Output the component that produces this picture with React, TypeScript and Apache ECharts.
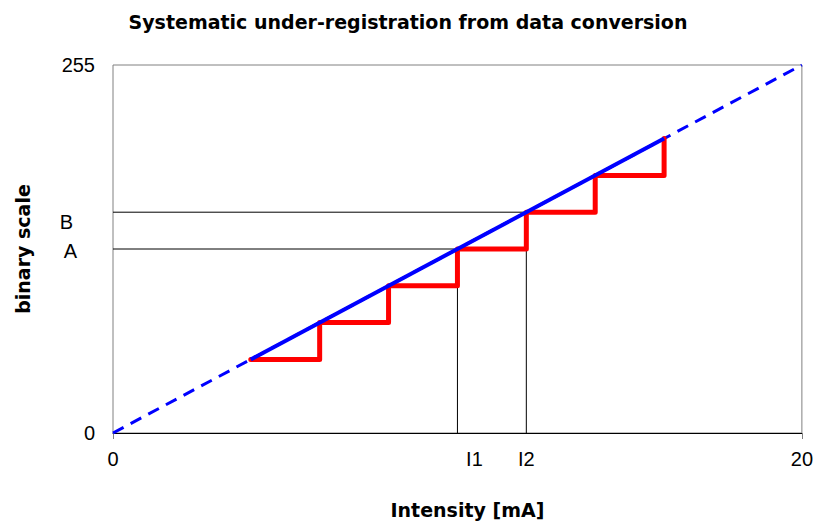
import React, { useEffect, useRef } from "react";
import * as echarts from "echarts";

const titleText = "Systematic under-registration from data conversion";
const xName = "Intensity [mA]";
const yName = "binary scale";

// ideal conversion line (full range)
const idealX = [0, 20];
const idealY = [0, 255];
// solid portion of ideal line
const solidX = [4, 16];
const solidY = [51, 204];
// digitised staircase (step values)
const stepX = [4, 6, 8, 10, 12, 14, 16];
const stepY = [51, 76.5, 102, 127.5, 153, 178.5, 204];
// guide lines for A / I1 and B / I2
const guideA = [[0, 127.5], [10, 127.5], [10, 0]];
const guideB = [[0, 153], [12, 153], [12, 0]];

const xTickValues = [0, 10, 12, 20];
const xTickLabels = ["0", "I1", "I2", "20"];
const yTickValues = [0, 127.5, 153, 255];
const yTickLabels = ["0", "A", "B", "255"];

const FONT = "'Liberation Sans', Arial, sans-serif";
const BOLD_FONT = "'DejaVu Sans', 'Liberation Sans', sans-serif";

export default function App() {
  const ref = useRef<HTMLDivElement>(null);
  useEffect(() => {
    if (!ref.current) return;
    const chart = echarts.init(ref.current, null, { renderer: "svg" });
    const zip = (xs: number[], ys: number[]) => xs.map((x, i) => [x, ys[i]]);
    chart.setOption({
      animation: false,
      backgroundColor: "#ffffff",
      title: {
        text: titleText,
        left: "center",
        top: 7,
        padding: [5, 0, 5, 8],
        textStyle: { fontFamily: BOLD_FONT, fontSize: 19, fontWeight: "bold", color: "#000" },
      },
      grid: {
        left: 113,
        top: 65,
        right: 14,
        bottom: 92,
        show: true,
        borderColor: "#808080",
        borderWidth: 1,
      },
      xAxis: {
        type: "value",
        min: 0,
        max: 20,
        interval: 2,
        name: xName,
        nameLocation: "middle",
        nameGap: 67,
        nameTextStyle: {
          fontFamily: BOLD_FONT,
          fontSize: 19,
          fontWeight: "bold",
          color: "#000",
          padding: [0, 0, 0, 20],
        },
        axisLine: { show: true, lineStyle: { color: "#000", width: 1 } },
        axisTick: { show: true, customValues: [0, 20], length: 6, lineStyle: { color: "#808080" } },
        splitLine: { show: false },
        axisLabel: {
          customValues: xTickValues,
          margin: 16,
          fontFamily: FONT,
          fontSize: 20,
          color: "#000",
          formatter: (v: number) => {
            const i = xTickValues.indexOf(v);
            const t = i >= 0 ? xTickLabels[i] : "";
            return t === "I1" ? "{i1|" + t + "}" : t;
          },
          rich: {
            i1: { fontFamily: FONT, fontSize: 20, color: "#000", padding: [0, 0, 0, 34] },
          },
        },
      },
      yAxis: {
        type: "value",
        min: 0,
        max: 255,
        interval: 255,
        name: yName,
        nameLocation: "middle",
        nameGap: 81,
        nameTextStyle: { fontFamily: BOLD_FONT, fontSize: 19, fontWeight: "bold", color: "#000" },
        axisLine: { show: false },
        axisTick: { show: false },
        splitLine: { show: false },
        axisLabel: {
          customValues: yTickValues,
          margin: 18,
          fontFamily: FONT,
          fontSize: 20,
          color: "#000",
          formatter: (v: number) => {
            const i = yTickValues.indexOf(v);
            const t = i >= 0 ? yTickLabels[i] : "";
            if (t === "A") return "{a|A}";
            if (t === "B") return "{b|B}";
            return t;
          },
          rich: {
            a: { fontFamily: FONT, fontSize: 20, color: "#000", padding: [3, 18, 0, 0] },
            b: { fontFamily: FONT, fontSize: 20, color: "#000", padding: [20, 22, 0, 0] },
          },
        },
      },
      series: [
        {
          type: "line",
          data: guideA,
          symbol: "none",
          lineStyle: { color: "#000", width: 1 },
          z: 1,
        },
        {
          type: "line",
          data: guideB,
          symbol: "none",
          lineStyle: { color: "#000", width: 1 },
          z: 1,
        },
        {
          type: "line",
          data: zip(idealX, idealY),
          symbol: "none",
          lineStyle: { color: "#0000ff", width: 3, type: [12, 8] },
          z: 2,
        },
        {
          type: "line",
          data: zip(stepX, stepY),
          step: "end",
          symbol: "none",
          lineStyle: { color: "#ff0000", width: 5, join: "round", cap: "round" },
          z: 3,
        },
        {
          type: "line",
          data: zip(solidX, solidY),
          symbol: "none",
          lineStyle: { color: "#0000ff", width: 4 },
          z: 4,
        },
      ],
    });
    return () => chart.dispose();
  }, []);
  return (
    <div
      ref={ref}
      style={{ position: "fixed", left: 0, top: 0, width: 816, height: 525 }}
    />
  );
}
